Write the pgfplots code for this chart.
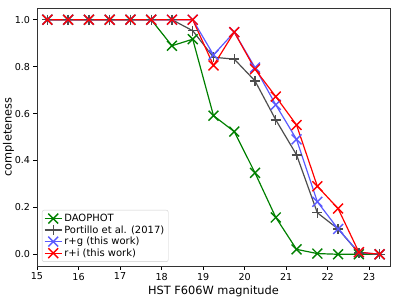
\documentclass[border=0pt]{standalone}
\usepackage{pgfplots}
\pgfplotsset{compat=1.18}
\usepackage{fontspec}
\setmainfont{DejaVu Sans}
\definecolor{mgreen}{RGB}{0,128,0}
\definecolor{mgray}{RGB}{77,77,77}
\definecolor{mblue}{RGB}{90,90,255}
\definecolor{mred}{RGB}{255,0,0}
\begin{document}
\begin{tikzpicture}
\begin{axis}[
  scale only axis,
  width=353bp, height=258bp,
  xmin=15, xmax=23.5, ymin=-0.05, ymax=1.05,
  xtick={15,16,17,18,19,20,21,22,23},
  ytick={0,0.2,0.4,0.6,0.8,1.0},
  yticklabel style={/pgf/number format/.cd,fixed,fixed zerofill,precision=1},
  /pgf/number format/assume math mode=true,
  tick align=outside,
  tick pos=left,
  major tick length=3.5bp,
  tick style={black, line width=0.6pt},
  axis line style={line width=0.7pt, black!80},
  ticklabel style={font=\fontsize{9.6}{11}\selectfont},
  xlabel={HST F606W magnitude},
  ylabel={completeness},
  label style={font=\fontsize{11.4}{13}\selectfont},
  xlabel style={yshift=1bp},
  ylabel style={yshift=-6bp},
  legend style={at={(0.014,0.016)}, anchor=south west, font=\fontsize{10}{12}\selectfont, draw=black!20, rounded corners=2pt, row sep=-1.5pt, inner sep=2pt},
  legend cell align=left,
  every axis plot/.append style={line width=1.2pt, mark options={line width=1.4pt}},
  clip=false,
]
\addplot[mgreen, mark=x, mark size=7pt] coordinates {
(15.25,1) (15.75,1) (16.25,1) (16.75,1) (17.25,1) (17.75,1) (18.25,0.889) (18.75,0.917)
(19.25,0.591) (19.75,0.523) (20.25,0.347) (20.75,0.157) (21.25,0.021) (21.75,0.003)
(22.25,0.0) (22.75,0.0) (23.25,0.0)};
\addlegendentry{DAOPHOT}
\addplot[mgray, mark=+, mark size=5pt] coordinates {
(15.25,1) (15.75,1) (16.25,1) (16.75,1) (17.25,1) (17.75,1) (18.25,1) (18.75,0.953)
(19.25,0.84) (19.75,0.832) (20.25,0.739) (20.75,0.573) (21.25,0.424) (21.75,0.177)
(22.25,0.108) (22.75,0.005) (23.25,0.0)};
\addlegendentry{Portillo et al. (2017)}
\addplot[mblue, mark=x, mark size=7pt] coordinates {
(15.25,1) (15.75,1) (16.25,1) (16.75,1) (17.25,1) (17.75,1) (18.25,1) (18.75,1)
(19.25,0.85) (19.75,0.947) (20.25,0.796) (20.75,0.637) (21.25,0.49) (21.75,0.224)
(22.25,0.108) (22.75,0.008) (23.25,0.0)};
\addlegendentry{r+g (this work)}
\addplot[mred, mark=x, mark size=7pt] coordinates {
(15.25,1) (15.75,1) (16.25,1) (16.75,1) (17.25,1) (17.75,1) (18.25,1) (18.75,1)
(19.25,0.805) (19.75,0.947) (20.25,0.789) (20.75,0.672) (21.25,0.551) (21.75,0.29)
(22.25,0.195) (22.75,0.009) (23.25,0.0)};
\addlegendentry{r+i (this work)}
\end{axis}
\pgfresetboundingbox
\useasboundingbox ([shift={(-37bp,-33bp)}]current axis.south west) rectangle ([shift={(9bp,8bp)}]current axis.north east);
\end{tikzpicture}
\end{document}
